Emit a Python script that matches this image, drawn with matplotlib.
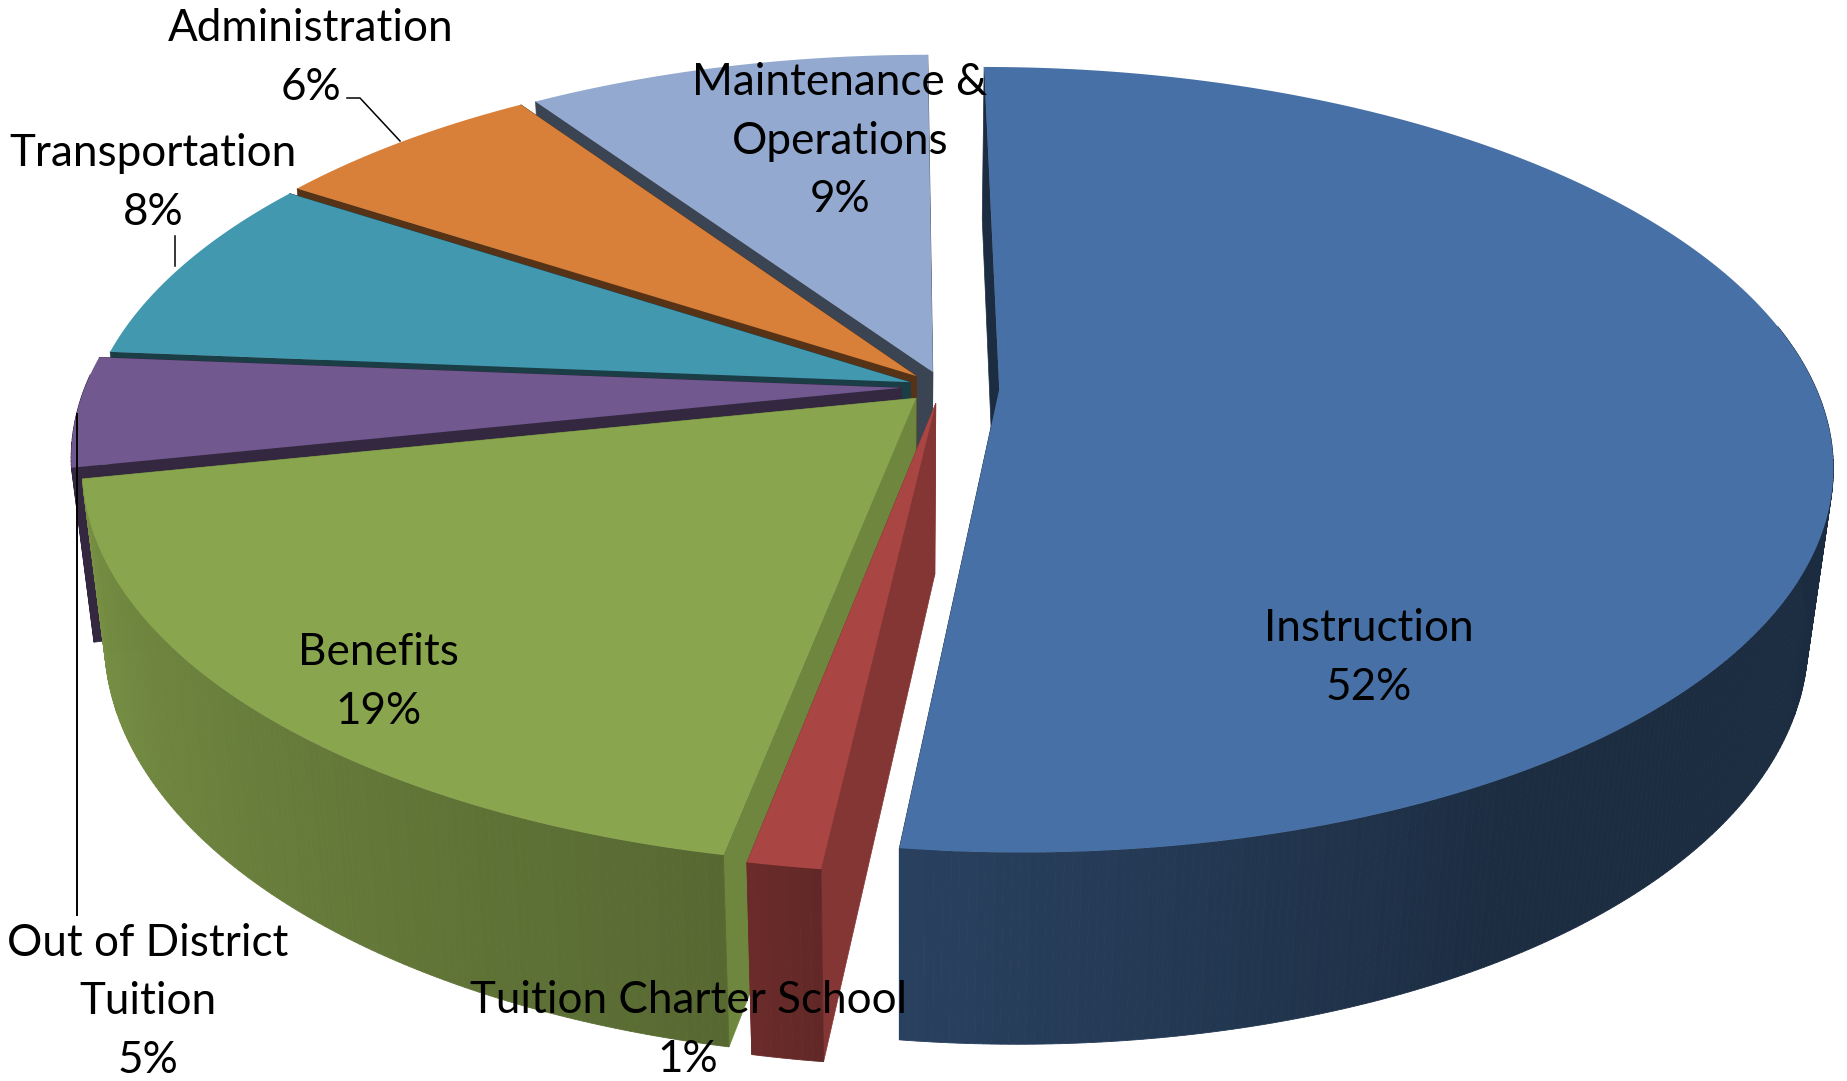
import numpy as np
import matplotlib
matplotlib.use('Agg')
import matplotlib.pyplot as plt

# slices clockwise from 12 o'clock, shares (labels are the rounded ones)
names = ['Instruction', 'Tuition Charter School', 'Benefits', 'Out of District\nTuition',
         'Transportation', 'Administration', 'Maintenance &\nOperations']
label_pct = [52, 1, 19, 5, 8, 6, 9]
shares = [51.95, 1.2, 18.6, 4.55, 7.95, 6.35, 9.4]
colors = ['#4771A6', '#A94543', '#89A54E', '#71588F', '#4198AF', '#D88039', '#93A9CF']

# how far each slice is pulled out of the pie
pull_u = [0.075, -0.003, -0.027, -0.045, -0.034, -0.026, -0.006]
pull_v = [0.0, 0.037, 0.024, -0.003, -0.018, -0.034, -0.045]
wall_shade = [0.40, 0.78, 0.81, 0.45, 0.40, 0.40, 0.40]

# camera
cam_x, cen_x, cen_y = 900, 938, 389
a, b, d = 817, 380, 175
k, m = 0.18, 0.027


def project(u, v, z):
    s = 1 / (1 - k * v + m * z)
    return cam_x + (cen_x - cam_x + a * u) * s, cen_y + (b * v + d * z) * s


def darker(col, f):
    rgb = np.array(matplotlib.colors.to_rgb(col))
    return tuple(rgb * f)


def rim_shade(deg):
    return np.interp(deg, [90, 150, 187, 192, 258, 270], [0.38, 0.40, 0.58, 0.64, 0.88, 0.90])


fig = plt.figure(figsize=(18.47, 10.81), dpi=100)
ax = fig.add_axes([0, 0, 1, 1])
ax.set_xlim(0, 1847)
ax.set_ylim(1081, 0)
ax.axis('off')

edges = np.cumsum([0] + shares) / sum(shares) * 360

# painter's order: the back slices first, Instruction last
for i in [6, 5, 4, 3, 2, 1, 0]:
    start, end = edges[i], edges[i + 1]
    th = np.radians(np.linspace(start, end, max(int(end - start) * 2, 4)))
    u = pull_u[i] + np.sin(th)
    v = pull_v[i] - np.cos(th)
    col = colors[i]
    wall = darker(col, wall_shade[i])
    z_ord = 10 - i

    # radial walls
    for j in [0, -1]:
        xs, ys = project(np.array([pull_u[i], u[j], u[j], pull_u[i]]),
                         np.array([pull_v[i], v[j], v[j], pull_v[i]]),
                         np.array([0, 0, 1, 1]))
        ax.fill(xs, ys, color=wall, lw=0.5, zorder=z_ord)

    # outer wall in small strips for the gradient, back side is hidden anyway
    for j in range(len(th) - 1):
        deg = np.degrees(th[j])
        if deg < 80 or deg > 272:
            continue
        xs, ys = project(np.array([u[j], u[j + 1], u[j + 1], u[j]]),
                         np.array([v[j], v[j + 1], v[j + 1], v[j]]),
                         np.array([0, 0, 1, 1]))
        f = wall_shade[i] if i == 3 else rim_shade(deg)
        ax.fill(xs, ys, color=darker(col, f), lw=0.6, zorder=z_ord)

    # top face
    xs, ys = project(np.r_[pull_u[i], u], np.r_[pull_v[i], v], 0)
    ax.fill(xs, ys, color=col, lw=0, zorder=z_ord)

# labels
label_pos = [(1369, 658), (688, 1030), (378, 682), (148, 1002), (153, 183), (311, 58), (840, 141)]
for name, pct, (x, y) in zip(names, label_pct, label_pos):
    ax.text(x, y, f'{name}\n{pct}%', ha='center', va='center', family='Lato',
            fontsize=31.7, color='black', linespacing=1.53, zorder=30)

# leader lines
ax.plot([347, 360, 400], [98, 98, 141], color='black', lw=1.1, zorder=25)
ax.plot([175, 175], [236, 266], color='black', lw=1.1, zorder=25)
ax.plot([77, 77], [414, 915], color='black', lw=1.4, zorder=25)

fig.savefig('out.png', dpi=100, facecolor='white')
